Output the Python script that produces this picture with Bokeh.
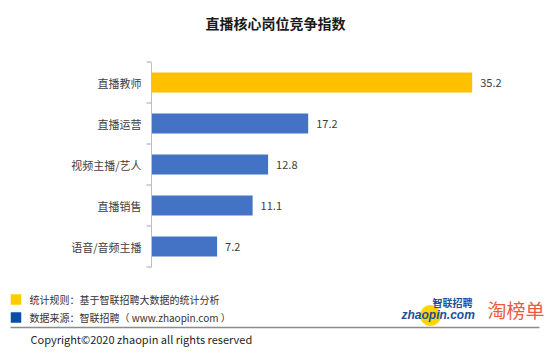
from bokeh.plotting import figure
from bokeh.models import Range1d, LinearAxis, FixedTicker, ColumnDataSource
from bokeh.core.properties import value
from bokeh.embed import file_html
from bokeh.resources import INLINE

# ---- data ----
title_text = "直播核心岗位竞争指数"
categories = ["直播教师", "直播运营", "视频主播/艺人", "直播销售", "语音/音频主播"]
values = [35.2, 17.2, 12.8, 11.1, 7.2]
note_rule = "统计规则：基于智联招聘大数据的统计分析"
note_source = "数据来源：智联招聘（ www.zhaopin.com ）"
copyright_text = "Copyright©2020 zhaopin all rights reserved"
logo_en = "zhaopin.com"
logo_cn = "智联招聘"
logo_rank = "淘榜单"

# ---- layout constants ----
W, H = 550, 353
PX_PER_UNIT = 9.11
AXIS_X = 151
ROW0 = 82
ROW = 41
FONT = "Noto Sans CJK SC"
AXIS_COLOR = "#A6A6A6"

p = figure(width=W, height=H, output_backend="svg", toolbar_location=None,
           x_axis_type=None, y_axis_type=None, min_border=0,
           x_range=Range1d(-AXIS_X / PX_PER_UNIT, (W - AXIS_X) / PX_PER_UNIT),
           y_range=Range1d((H - ROW0) / ROW, -ROW0 / ROW))
p.outline_line_color = None
p.background_fill_color = "white"
p.border_fill_color = "white"
p.extra_x_ranges = {"px": Range1d(0, W)}
p.extra_y_ranges = {"px": Range1d(H, 0)}

idx = list(range(len(categories)))
vmax = max(values)
colors = ["#FFC000" if v == vmax else "#4472C4" for v in values]
src = ColumnDataSource(dict(y=idx, v=values, c=colors, lab=[f"{v:.1f}" for v in values]))

p.hbar(y="y", left=0, right="v", height=20 / ROW, fill_color="c", line_color=None, source=src)
p.text(x="v", y="y", text="lab", x_offset=8, text_baseline="middle", text_align="left",
       text_font=value(FONT), text_font_size="11px", text_color="#404040", source=src)

bounds = (-0.5, len(categories) - 0.5)
# category labels axis
yax = LinearAxis(fixed_location=0, bounds=bounds,
                 ticker=FixedTicker(ticks=idx),
                 major_label_overrides={i: c for i, c in zip(idx, categories)},
                 axis_line_color="#BFBFBF", axis_line_width=1,
                 major_tick_out=0, major_tick_in=0,
                 minor_tick_out=0, minor_tick_in=0,
                 major_label_standoff=10, major_label_text_font=FONT,
                 major_label_text_font_size="11px", major_label_text_color="#404040")
p.add_layout(yax, "left")

# category boundary tick marks, drawn to the left of the axis line
bnd = [i - 0.5 for i in range(len(categories) + 1)]
tick_len = 5 / PX_PER_UNIT
p.segment(x0=[0] * len(bnd), y0=bnd, x1=[-tick_len] * len(bnd), y1=bnd,
          line_color=AXIS_COLOR, line_width=1)

# ---- title ----
p.text(x=[W / 2], y=[22], text=[title_text], text_align="center", text_baseline="middle",
       text_font=value(FONT), text_font_size="14px", text_font_style="bold", text_color="#1a1a1a",
       x_range_name="px", y_range_name="px")

# ---- footer ----
p.rect(x=[15.5, 15.5], y=[299, 317], width=10.5, height=10.5,
       fill_color=["#FFCC00", "#0A4EA8"], line_color=None, x_range_name="px", y_range_name="px")
p.text(x=[29, 29], y=[299, 317], text=[note_rule, note_source], text_baseline="middle",
       text_font=value(FONT), text_font_size="10px", text_color="#333333",
       x_range_name="px", y_range_name="px")
p.segment(x0=[10], y0=[327], x1=[539], y1=[327], line_color="#8C8C8C", line_width=1.5,
          x_range_name="px", y_range_name="px")
p.text(x=[30], y=[338], text=[copyright_text], text_baseline="middle",
       text_font=value(FONT), text_font_size="11px", text_color="#262626",
       x_range_name="px", y_range_name="px")

# ---- logo ----
p.scatter(x=[430], y=[315], size=21, marker="circle", fill_color="#FFD400", line_color=None,
          x_range_name="px", y_range_name="px")
p.text(x=[401], y=[314], text=[logo_en], text_baseline="middle",
       text_font=value("Liberation Sans"), text_font_size="12px", text_font_style="bold italic",
       text_color="#1D4F9E", x_range_name="px", y_range_name="px")
p.text(x=[432], y=[302], text=[logo_cn], text_baseline="middle",
       text_font=value(FONT), text_font_size="10px", text_font_style="bold",
       text_color="#1D4F9E", x_range_name="px", y_range_name="px")
p.text(x=[487], y=[309], text=[logo_rank], text_baseline="middle",
       text_font=value(FONT), text_font_size="19px",
       text_color="#EE5A3C", x_range_name="px", y_range_name="px")

open("out.html", "w").write(file_html(p, INLINE))
